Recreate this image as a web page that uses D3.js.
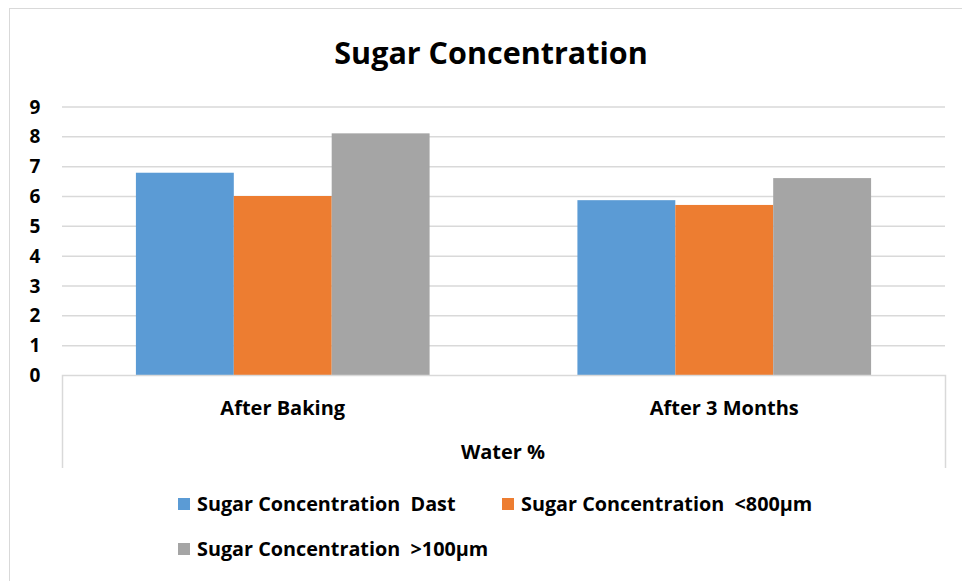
<!DOCTYPE html>
<html><head><meta charset="utf-8">
<script src="https://cdn.jsdelivr.net/npm/d3@7"></script>
<style>body{margin:0;background:#fff}svg{display:block}text{font-family:"Open Sans",sans-serif;font-weight:bold;fill:#000}</style>
</head><body>
<svg id="c" width="962" height="581"></svg>
<script>
const categories = ["After Baking", "After 3 Months"];
const seriesNames = ["Sugar Concentration  Dast", "Sugar Concentration  <800µm", "Sugar Concentration  >100µm"];
const dast = [6.78, 5.86];
const lt800 = [6.0, 5.7];
const gt100 = [8.1, 6.6];
const yTicks = [0,1,2,3,4,5,6,7,8,9];
const colors = ["#5b9bd5", "#ed7d31", "#a5a5a5"];
const seriesVals = [dast, lt800, gt100];

const svg = d3.select("#c");
svg.append("rect").attr("x",9.5).attr("y",8.5).attr("width",970).attr("height",600)
  .attr("fill","#fff").attr("stroke","#d9d9d9");

const x0 = d3.scaleBand().domain(categories).range([62,945]).paddingInner(0).paddingOuter(0);
const x1 = d3.scaleBand().domain(seriesNames).range([0,x0.bandwidth()]).paddingInner(0).paddingOuter(0.755);
const y = d3.scaleLinear().domain([0,9]).range([375,106.5]);

// gridlines
svg.append("g").selectAll("line").data(yTicks.filter(d=>d>0)).join("line")
  .attr("x1",62).attr("x2",945).attr("y1",d=>y(d)+0.5).attr("y2",d=>y(d)+0.5)
  .attr("stroke","#d9d9d9").attr("stroke-width",1.5);

// bars
const data = [];
categories.forEach((c,i)=>seriesNames.forEach((s,j)=>data.push({c,s,v:seriesVals[j][i],j})));
svg.append("g").selectAll("rect").data(data).join("rect")
  .attr("x",d=>x0(d.c)+x1(d.s)).attr("width",x1.bandwidth())
  .attr("y",d=>y(d.v)).attr("height",d=>y(0)-y(d.v)).attr("fill",d=>colors[d.j]);

// x axis box
svg.append("path").attr("d",`M62.5,468 V375.5 H945.5 V468`).attr("fill","none").attr("stroke","#d9d9d9").attr("stroke-width",1.5);

// y labels
const yAxis = d3.axisLeft(y).tickValues(yTicks).tickSize(0).tickPadding(0);
const ya = svg.append("g").attr("transform","translate(35,0)").call(yAxis);
ya.select(".domain").remove();
ya.selectAll("text").attr("font-size",19).attr("font-family",null).attr("text-anchor","middle").attr("dy","0.35em");

// x labels
svg.append("g").selectAll("text").data(categories).join("text")
  .attr("x",d=>x0(d)+x0.bandwidth()/2).attr("y",408).attr("dy","0.35em")
  .attr("text-anchor","middle").attr("font-size",20).text(d=>d);
svg.append("text").attr("x",503).attr("y",452).attr("dy","0.35em").attr("text-anchor","middle")
  .attr("font-size",20).text("Water %");

// title
svg.append("text").attr("x",491).attr("y",53).attr("dy","0.35em").attr("text-anchor","middle")
  .attr("font-size",30.5).text("Sugar Concentration");

// legend
const legPos = [[178,504],[502,504],[178,549]];
const lg = svg.append("g").selectAll("g").data(seriesNames).join("g")
  .attr("transform",(d,i)=>`translate(${legPos[i][0]},${legPos[i][1]})`);
lg.append("rect").attr("x",0).attr("y",-6).attr("width",12).attr("height",12).attr("fill",(d,i)=>colors[i]);
lg.append("text").attr("x",19).attr("dy","0.35em").attr("font-size",19.8).attr("xml:space","preserve")
  .style("white-space","pre").text(d=>d);
</script>
</body></html>
